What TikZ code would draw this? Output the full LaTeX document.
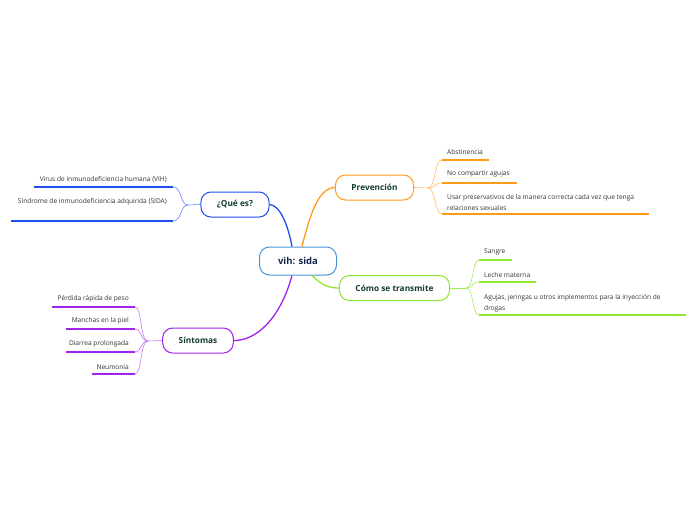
\documentclass[tikz,border=0pt]{standalone}
\usepackage{fontspec}
\setmainfont{Open Sans}
\usepackage{xcolor}
\usepackage{tikz}
\definecolor{qblue}{HTML}{1F4FF2}
\definecolor{porange}{HTML}{FF9B1A}
\definecolor{tgreen}{HTML}{8DE82C}
\definecolor{spurple}{HTML}{A222EE}
\definecolor{cblue}{HTML}{4A92D8}
\definecolor{ntext}{HTML}{123D2B}
\definecolor{ctext}{HTML}{14264F}
\definecolor{ltext}{HTML}{333333}
\tikzstyle{central} = [rectangle, rounded corners=10pt, minimum width=77pt, minimum height=28pt, text centered, draw=cblue, line width=1pt, fill=white, text=ctext, font=\fontsize{9.5}{11}\selectfont\bfseries]
\tikzstyle{topic} = [rectangle, rounded corners=10pt, minimum height=25pt, inner xsep=16pt, text centered, line width=1pt, fill=white, text=ntext, font=\fontsize{8.3}{10}\selectfont\bfseries]
\tikzstyle{leaf} = [inner sep=0pt, text=ltext, font=\fontsize{6.6}{11}\selectfont, align=left]
\tikzstyle{link} = [line width=1.3pt]
\tikzstyle{twig} = [line width=0.6pt]
\begin{document}
\begin{tikzpicture}[x=1pt, y=-1pt]
    \useasboundingbox (0,0) rectangle (696,520);

    \node (vih) [central] at (298,261) {vih: sida};
    \node (que) [topic, draw=qblue] at (235,204.5) {¿Qué es?};
    \node (prev) [topic, draw=porange] at (374.5,187.5) {Prevención};
    \node (como) [topic, draw=tgreen] at (394.5,288) {Cómo se transmite};
    \node (sint) [topic, draw=spurple] at (198,340.5) {Síntomas};

    % main branches
    \draw [link, qblue] (que.east) .. controls (280,205) and (288,225) .. ([xshift=-6pt]vih.north);
    \draw [link, porange] ([xshift=4pt]vih.north) .. controls (310,215) and (318,188) .. (prev.west);
    \draw [link, tgreen] ([xshift=14pt]vih.south) .. controls (322,285) and (328,288) .. (como.west);
    \draw [link, spurple] ([xshift=-6pt]vih.south) .. controls (280,320) and (255,341) .. (sint.east);

    % ¿Qué es?
    \coordinate (qj) at (188,205);
    \coordinate (q1a) at (173,187); \coordinate (q1b) at (34,187);
    \coordinate (q2a) at (173,221); \coordinate (q2b) at (11,221);
    \node (q1) [leaf, anchor=south east] at (167,183) {Virus de inmunodeficiencia humana (VIH)};
    \node (q2) [leaf, anchor=south east] at (167,205) {Síndrome de inmunodeficiencia adquirida (SIDA)};
    \draw [twig, qblue!70] (que.west) -- (qj);
    \draw [twig, qblue!70] (qj) .. controls (180,205) and (182,187) .. (q1a);
    \draw [twig, qblue!70] (qj) .. controls (180,205) and (182,221) .. (q2a);
    \draw [link, qblue] (q1a) -- (q1b);
    \draw [link, qblue] (q2a) -- (q2b);

    % Prevención
    \coordinate (pj) at (428,188);
    \coordinate (p1a) at (442,160); \coordinate (p1b) at (489,160);
    \coordinate (p2a) at (442,183); \coordinate (p2b) at (517,183);
    \coordinate (p3a) at (442,214); \coordinate (p3b) at (649,214);
    \node (p1) [leaf, anchor=south west] at (447,155) {Abstinencia};
    \node (p2) [leaf, anchor=south west] at (447,177) {No compartir agujas};
    \node (p3) [leaf, anchor=south west] at (447,211) {Usar preservativos de la manera correcta cada vez que tenga\\relaciones sexuales};
    \draw [twig, porange!70] (prev.east) -- (pj);
    \draw [twig, porange!70] (pj) .. controls (436,188) and (434,160) .. (p1a);
    \draw [twig, porange!70] (pj) .. controls (436,188) and (434,183) .. (p2a);
    \draw [twig, porange!70] (pj) .. controls (436,188) and (434,214) .. (p3a);
    \draw [link, porange] (p1a) -- (p1b);
    \draw [link, porange] (p2a) -- (p2b);
    \draw [link, porange] (p3a) -- (p3b);

    % Cómo se transmite
    \coordinate (cj) at (466,288);
    \coordinate (c1a) at (479,260); \coordinate (c1b) at (512,260);
    \coordinate (c2a) at (479,282); \coordinate (c2b) at (536,282);
    \coordinate (c3a) at (479,315); \coordinate (c3b) at (686,315);
    \node (c1) [leaf, anchor=south west] at (484,255) {Sangre};
    \node (c2) [leaf, anchor=south west] at (484,278) {Leche materna};
    \node (c3) [leaf, anchor=south west] at (484,312) {Agujas, jeringas u otros implementos para la inyección de\\drogas};
    \draw [twig, tgreen!80] (como.east) -- (cj);
    \draw [twig, tgreen!80] (cj) .. controls (474,288) and (472,260) .. (c1a);
    \draw [twig, tgreen!80] (cj) .. controls (474,288) and (472,282) .. (c2a);
    \draw [twig, tgreen!80] (cj) .. controls (474,288) and (472,315) .. (c3a);
    \draw [link, tgreen] (c1a) -- (c1b);
    \draw [link, tgreen] (c2a) -- (c2b);
    \draw [link, tgreen] (c3a) -- (c3b);

    % Síntomas
    \coordinate (sj) at (148,341);
    \coordinate (s1a) at (135,307); \coordinate (s1b) at (52,307);
    \coordinate (s2a) at (135,329); \coordinate (s2b) at (66,329);
    \coordinate (s3a) at (135,352); \coordinate (s3b) at (66,352);
    \coordinate (s4a) at (135,374); \coordinate (s4b) at (92,374);
    \node (s1) [leaf, anchor=south east] at (129,302) {Pérdida rápida de peso};
    \node (s2) [leaf, anchor=south east] at (129,324) {Manchas en la piel};
    \node (s3) [leaf, anchor=south east] at (129,347) {Diarrea prolongada};
    \node (s4) [leaf, anchor=south east] at (129,370) {Neumonía};
    \draw [twig, spurple!60] (sint.west) -- (sj);
    \draw [twig, spurple!60] (sj) .. controls (140,341) and (142,307) .. (s1a);
    \draw [twig, spurple!60] (sj) .. controls (140,341) and (142,329) .. (s2a);
    \draw [twig, spurple!60] (sj) .. controls (140,341) and (142,352) .. (s3a);
    \draw [twig, spurple!60] (sj) .. controls (140,341) and (142,374) .. (s4a);
    \draw [link, spurple] (s1a) -- (s1b);
    \draw [link, spurple] (s2a) -- (s2b);
    \draw [link, spurple] (s3a) -- (s3b);
    \draw [link, spurple] (s4a) -- (s4b);
\end{tikzpicture}
\end{document}
